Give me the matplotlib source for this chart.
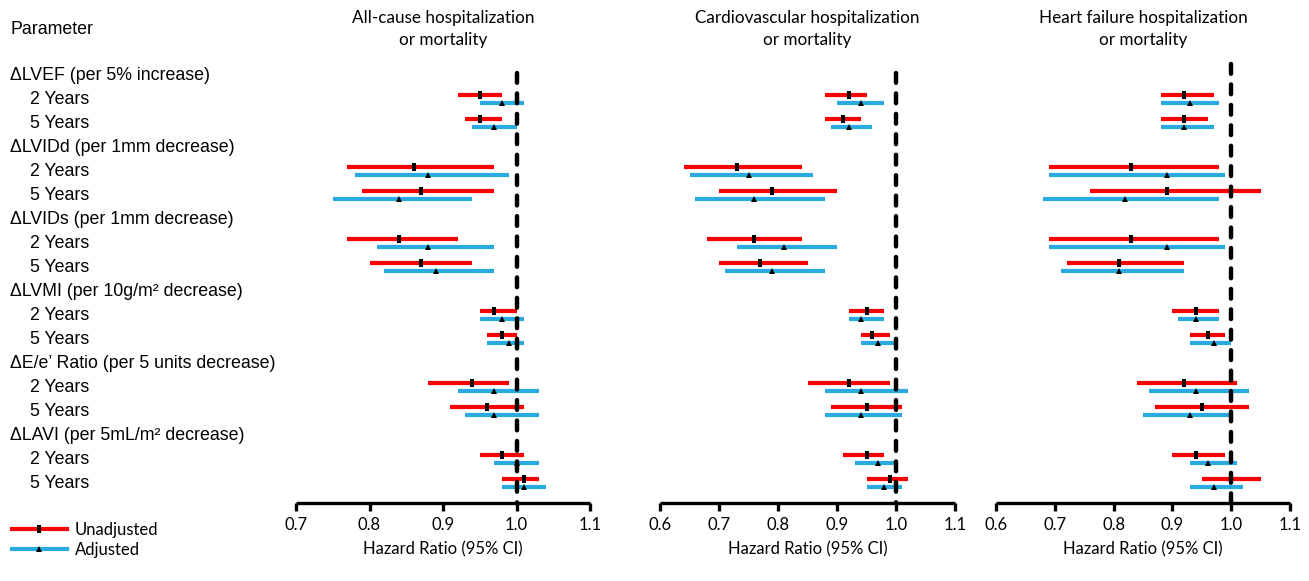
import matplotlib
matplotlib.use('Agg')
import matplotlib.pyplot as plt
from matplotlib.lines import Line2D
from matplotlib.path import Path
from matplotlib.transforms import blended_transform_factory

plt.rcParams['font.family'] = ['Lato', 'DejaVu Sans']
LABEL_FONT = ['Liberation Sans', 'DejaVu Sans']

parameters = ['\u0394LVEF (per 5% increase)',
              '\u0394LVIDd (per 1mm decrease)',
              '\u0394LVIDs (per 1mm decrease)',
              '\u0394LVMI (per 10g/m\u00b2 decrease)',
              '\u0394E/e\u2019 Ratio (per 5 units decrease)',
              '\u0394LAVI (per 5mL/m\u00b2 decrease)']
years = ['2 Years', '5 Years']
titles = ['All-cause hospitalization\nor mortality',
          'Cardiovascular hospitalization\nor mortality',
          'Heart failure hospitalization\nor mortality']

# order: LVEF 2y, LVEF 5y, LVIDd 2y, LVIDd 5y, LVIDs 2y, LVIDs 5y,
#        LVMI 2y, LVMI 5y, E/e' 2y, E/e' 5y, LAVI 2y, LAVI 5y
ac_unadj_hr = [0.95, 0.95, 0.86, 0.87, 0.84, 0.87, 0.97, 0.98, 0.94, 0.96, 0.98, 1.01]
ac_unadj_lo = [0.92, 0.93, 0.77, 0.79, 0.77, 0.80, 0.95, 0.96, 0.88, 0.91, 0.95, 0.98]
ac_unadj_hi = [0.98, 0.98, 0.97, 0.97, 0.92, 0.94, 1.00, 1.00, 0.99, 1.01, 1.01, 1.03]
ac_adj_hr = [0.98, 0.97, 0.88, 0.84, 0.88, 0.89, 0.98, 0.99, 0.97, 0.97, 1.00, 1.01]
ac_adj_lo = [0.95, 0.94, 0.78, 0.75, 0.81, 0.82, 0.95, 0.96, 0.92, 0.93, 0.97, 0.98]
ac_adj_hi = [1.01, 1.00, 0.99, 0.94, 0.97, 0.97, 1.01, 1.01, 1.03, 1.03, 1.03, 1.04]

cv_unadj_hr = [0.92, 0.91, 0.73, 0.79, 0.76, 0.77, 0.95, 0.96, 0.92, 0.95, 0.95, 0.99]
cv_unadj_lo = [0.88, 0.88, 0.64, 0.70, 0.68, 0.70, 0.92, 0.94, 0.85, 0.89, 0.91, 0.95]
cv_unadj_hi = [0.95, 0.94, 0.84, 0.90, 0.84, 0.85, 0.98, 0.99, 0.99, 1.01, 0.98, 1.02]
cv_adj_hr = [0.94, 0.92, 0.75, 0.76, 0.81, 0.79, 0.94, 0.97, 0.94, 0.94, 0.97, 0.98]
cv_adj_lo = [0.90, 0.89, 0.65, 0.66, 0.73, 0.71, 0.92, 0.94, 0.88, 0.88, 0.93, 0.95]
cv_adj_hi = [0.98, 0.96, 0.86, 0.88, 0.90, 0.88, 0.98, 1.00, 1.02, 1.01, 1.00, 1.01]

hf_unadj_hr = [0.92, 0.92, 0.83, 0.89, 0.83, 0.81, 0.94, 0.96, 0.92, 0.95, 0.94, 1.00]
hf_unadj_lo = [0.88, 0.88, 0.69, 0.76, 0.69, 0.72, 0.90, 0.93, 0.84, 0.87, 0.90, 0.95]
hf_unadj_hi = [0.97, 0.96, 0.98, 1.05, 0.98, 0.92, 0.98, 0.99, 1.01, 1.03, 0.99, 1.05]
hf_adj_hr = [0.93, 0.92, 0.89, 0.82, 0.89, 0.81, 0.94, 0.97, 0.94, 0.93, 0.96, 0.97]
hf_adj_lo = [0.88, 0.88, 0.69, 0.68, 0.69, 0.71, 0.91, 0.93, 0.86, 0.85, 0.93, 0.93]
hf_adj_hi = [0.98, 0.97, 0.99, 0.98, 0.99, 0.92, 0.98, 1.00, 1.03, 1.00, 1.01, 1.02]

panels = [
    (ac_unadj_hr, ac_unadj_lo, ac_unadj_hi, ac_adj_hr, ac_adj_lo, ac_adj_hi),
    (cv_unadj_hr, cv_unadj_lo, cv_unadj_hi, cv_adj_hr, cv_adj_lo, cv_adj_hi),
    (hf_unadj_hr, hf_unadj_lo, hf_unadj_hi, hf_adj_hr, hf_adj_lo, hf_adj_hi),
]
xlims = [(0.7, 1.1), (0.6, 1.1), (0.6, 1.1)]
xticks = [[0.7, 0.8, 0.9, 1.0, 1.1],
          [0.6, 0.7, 0.8, 0.9, 1.0, 1.1],
          [0.6, 0.7, 0.8, 0.9, 1.0, 1.1]]

RED = '#ff0000'
BLUE = '#29abe2'
W, H = 1309, 581
fig = plt.figure(figsize=(W / 100, H / 100), dpi=100)

# pixel boxes for axes: left, right
boxes = [(296, 590), (660, 955), (996, 1290)]
top_px, bot_px = 60, 503
row0_px, row_step = 75, 24
ref_top = [-0.1, -0.1, -0.45]

rect = Path([(-0.45, -1), (0.45, -1), (0.45, 1), (-0.45, 1), (-0.45, -1)],
            [Path.MOVETO, Path.LINETO, Path.LINETO, Path.LINETO, Path.CLOSEPOLY])

# row positions: header 3p, 2y 3p+1, 5y 3p+2
rows = []
for p in range(len(parameters)):
    rows += [3 * p + 1, 3 * p + 2]
off = 0.155

axes = []
for k, (l, r) in enumerate(boxes):
    ax = fig.add_axes([l / W, 1 - bot_px / H, (r - l) / W, (bot_px - top_px) / H])
    axes.append(ax)
    uhr, ulo, uhi, ahr, alo, ahi = panels[k]
    yr = [y - off for y in rows]
    yb = [y + off for y in rows]
    ax.hlines(yr, ulo, uhi, color=RED, lw=3.0, zorder=2)
    ax.hlines(yb, alo, ahi, color=BLUE, lw=3.0, zorder=2)
    ax.plot(uhr, yr, ls='none', marker=rect, ms=5.5, color='black', mew=0, zorder=4)
    ax.plot(ahr, yb, ls='none', marker='^', ms=4.5, color='black', mew=0, zorder=4)
    ax.vlines(1.0, ref_top[k], (bot_px - row0_px) / row_step, color='black', lw=3.2,
              linestyles=(0, (2.2, 2.4)), capstyle='round', zorder=3)
    ax.set_xlim(*xlims[k])
    ax.set_ylim((bot_px - row0_px) / row_step, (top_px - row0_px) / row_step)
    ax.set_xticks(xticks[k])
    ax.set_xticklabels(['%.1f' % t for t in xticks[k]])
    ax.set_yticks([])
    for s in ['top', 'right', 'left']:
        ax.spines[s].set_visible(False)
    ax.spines['bottom'].set_linewidth(2.4)
    ax.spines['bottom'].set_capstyle('butt')
    ax.tick_params(axis='x', direction='out', length=6, width=2.4, labelsize=12, pad=4)
    ax.set_xlabel('Hazard Ratio (95% CI)', fontsize=12, labelpad=6)
    ax.set_title(titles[k], fontsize=12.3, pad=11, linespacing=1.45)
    ax.patch.set_alpha(0)

# row labels on the left, sharing the first panel's row coordinates
tr = blended_transform_factory(fig.transFigure, axes[0].transData)
fig.text(10 / W, 1 - 30 / H, 'Parameter', fontsize=12.8, va='center', ha='left',
         family=LABEL_FONT)
for p, name in enumerate(parameters):
    axes[0].text(10 / W, 3 * p, name, transform=tr, fontsize=12.8, va='center', ha='left',
                 clip_on=False, family=LABEL_FONT)
    for j, yl in enumerate(years):
        axes[0].text(30 / W, 3 * p + 1 + j, yl, transform=tr, fontsize=12.8, va='center',
                     ha='left', clip_on=False, family=LABEL_FONT)

handles = [Line2D([], [], color=RED, lw=3.0, marker=rect, ms=5.5, mfc='black', mec='black', mew=0),
           Line2D([], [], color=BLUE, lw=3.0, marker='^', ms=4.5, mfc='black', mec='black', mew=0)]
fig.legend(handles, ['Unadjusted', 'Adjusted'], loc='upper left',
           bbox_to_anchor=(0.0, 1 - 510 / H), frameon=False, fontsize=12,
           handlelength=3.3, handletextpad=0.5, labelspacing=0.25, borderpad=0.3,
           borderaxespad=0.4)

fig.savefig('out.png', dpi=100)
